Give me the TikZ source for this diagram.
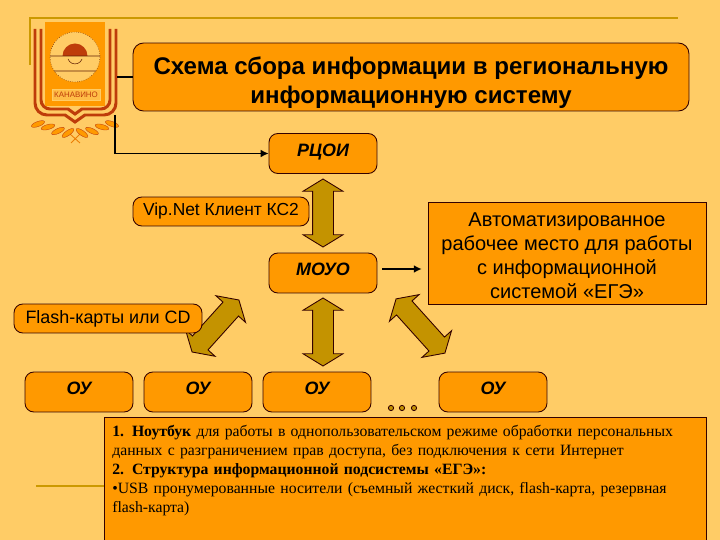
\documentclass[tikz,border=0pt]{standalone}
\usepackage{fontspec}
\setmainfont{Liberation Sans}
\newfontfamily\serifface{Liberation Serif}
\usetikzlibrary{shapes.arrows,arrows.meta}
\definecolor{pagebg}{RGB}{255,204,102}
\definecolor{boxfill}{RGB}{255,153,0}
\definecolor{goldline}{RGB}{204,153,0}
\definecolor{crestred}{RGB}{190,60,10}
\tikzset{
  roundbox/.style={draw=black!80!red, fill=boxfill, rounded corners=5pt, line width=0.5pt, inner sep=0pt, align=center},
  orgbox/.style={roundbox, minimum width=2.16cm, minimum height=0.8cm, text height=7.5pt, text depth=5pt,
    font=\fontsize{10.2}{12}\selectfont\bfseries\itshape},
  bigarrow/.style={shape=double arrow, draw=black!80!red, fill=goldline!96!black, line width=0.5pt,
    inner xsep=0pt, inner ysep=0.2cm, double arrow head extend=0.19cm, double arrow tip angle=117},
  link/.style={line width=0.85pt, draw=black},
  linkhead/.style={link, -{Latex[length=4.5pt,width=4.5pt]}},
  crestline/.style={draw=crestred, line width=1.7pt, fill=none}
}
\begin{document}
\begin{tikzpicture}[x=0.02cm, y=-0.02cm]
  \clip (0,0) rectangle (720,540);
  \fill[pagebg] (0,0) rectangle (720,540);

  \draw[goldline, line width=1pt] (30,65) -- (30,18) -- (678,18);
  \draw[goldline, line width=1pt] (36,486) -- (104,486);

  \draw[crestline] (35,29) -- (35,103) arc (180:90:12) -- (65,115) -- (75,122) -- (85,115) -- (104,115) arc (90:0:12) -- (116,29);
  \draw[crestline] (41,29) -- (41,100) arc (180:90:9) -- (68,109) -- (75,114) -- (82,109) -- (101,109) arc (90:0:9) -- (110,29);
  \fill[boxfill] (45,22) rectangle (105,106);
  \draw[black!50!crestred, fill=pagebg, densely dotted, line width=0.3pt] (75,57) circle (25);
  \fill[crestred] (62.5,56) arc (180:360:12.5) -- cycle;
  \draw[black!50!crestred, line width=0.3pt] (50,56) -- (100,56) (54,71) -- (96,71) (68,59) arc (160:20:7.5);
  \node[draw=pagebg, fill=pagebg!70!boxfill, minimum width=0.96cm, minimum height=0.22cm, inner sep=0pt,
        text=crestred, font=\fontsize{4.5}{5}\selectfont] (crestname) at (76,95) {КАНАВИНО};
  \draw[boxfill!70!crestred, line width=0.5pt] (70,134) -- (80,143) (80,134) -- (71,143);
  \foreach \lx/\ly/\la in {38/124/20, 48/127/15, 58/131/25, 68/133/35, 112/124/-20, 102/127/-15, 92/131/-25, 82/133/-35}
    \fill[boxfill, draw=crestred, line width=0.2pt, rotate around={\la:(\lx,\ly)}] (\lx,\ly) ellipse (7 and 2.5);

  \node[bigarrow, minimum height=1.36cm, rotate=90] (arrowtop) at (323,213) {};
  \node[bigarrow, minimum height=1.36cm, rotate=90] (arrowmid) at (323,332) {};
  \node[bigarrow, minimum height=1.4cm, rotate=48] (arrowleft) at (215.5,326) {};
  \node[bigarrow, minimum height=1.46cm, rotate=-48] (arrowright) at (420.5,326) {};

  \node[roundbox, minimum width=11.12cm, minimum height=1.36cm, rounded corners=6pt,
        font=\fontsize{13.7}{16.5}\selectfont\bfseries] (title) at (411,77)
        {\rule{0pt}{16pt}Схема сбора информации в региональную\\информационную систему};
  \node[orgbox, text depth=4pt] (rcoi) at (323,153.5) {РЦОИ};
  \node[roundbox, minimum width=3.52cm, minimum height=0.58cm, font=\fontsize{9.9}{12}\selectfont] (vipnet) at (221,211.5) {Vip.Net Клиент КС2};
  \node[orgbox] (moyo) at (323,273) {МОУО};
  \node[draw=black!80!red, fill=boxfill, minimum width=5.56cm, minimum height=2.04cm, inner sep=0pt, align=center,
        font=\fontsize{11.4}{13.6}\selectfont] (avto) at (567,253)
        {\rule{0pt}{11pt}Автоматизированное\\рабочее место для работы\\с информационной\\системой «ЕГЭ»};
  \node[roundbox, minimum width=3.76cm, minimum height=0.58cm, font=\fontsize{10.2}{12}\selectfont] (flash) at (108,318.5) {Flash-карты или CD};
  \node[orgbox] (ou1) at (79,392) {ОУ};
  \node[orgbox] (ou2) at (198,392) {ОУ};
  \node[orgbox] (ou3) at (317,392) {ОУ};
  \node[orgbox] (ou4) at (493,392) {ОУ};
  \foreach \dx in {391,402,414}
    \draw[black!80!red, fill=goldline!96!black, line width=0.5pt] (\dx,408) circle (2.6);
  \node[draw=black!80!red, fill=boxfill, anchor=north west, text width=11.72cm, inner xsep=0.16cm, inner ysep=0pt, align=left,
        font=\fontsize{8.95}{10.8}\selectfont\serifface] (notes) at (104,417)
        {\rule{0pt}{11pt}\textbf{1. Ноутбук} для работы в однопользовательском режиме обработки персональных\\
         данных с разграничением прав доступа, без подключения к сети Интернет\\
         \textbf{2. Структура информационной подсистемы «ЕГЭ»:}\\
         •USB пронумерованные носители (съемный жесткий диск, flash-карта, резервная\\
         flash-карта)\\[1.3cm]~};

  \coordinate (crestright) at (117,77);
  \coordinate (crestfoot) at (115,115);
  \coordinate (arrowlevel) at (400,269);
  \draw[link] (crestright) -- (title);
  \draw[linkhead] (crestfoot) |- (rcoi);
  \draw[linkhead, shorten <=2.8pt, shorten >=3.4pt] (moyo.east |- arrowlevel) -- (avto.west |- arrowlevel);
\end{tikzpicture}
\end{document}
